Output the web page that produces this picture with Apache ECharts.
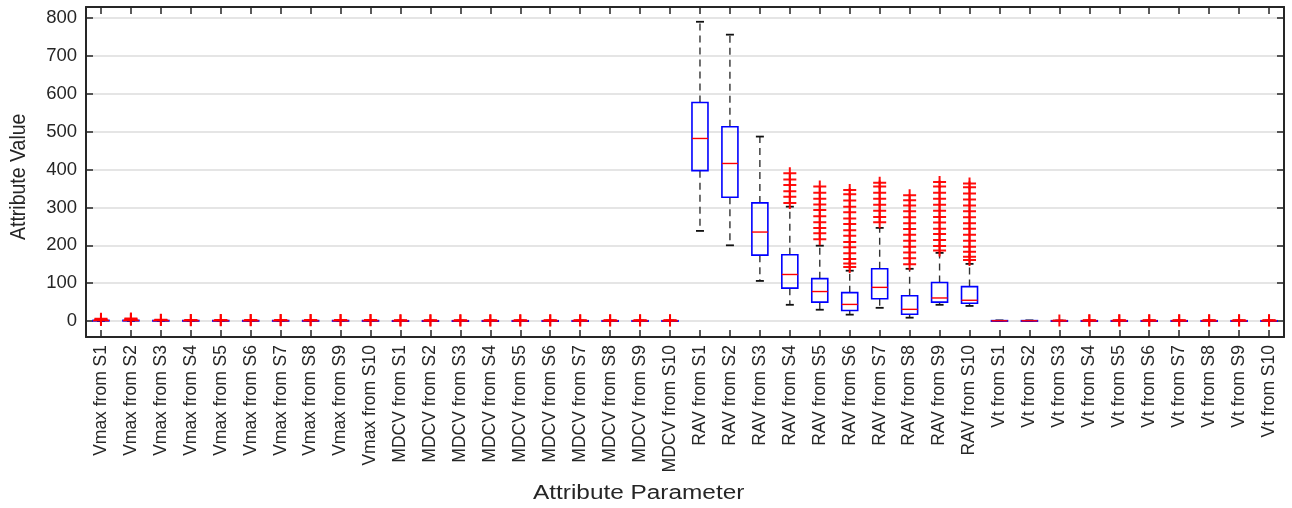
<!DOCTYPE html>
<html>
<head>
<meta charset="utf-8">
<script src="https://cdn.jsdelivr.net/npm/echarts@6/dist/echarts.min.js"></script>
<style>
  html, body { margin: 0; padding: 0; background: #ffffff; }
  #chart { width: 1292px; height: 508px; }
</style>
</head>
<body>
<div id="chart"></div>
<script>
// Attribute parameters (tick labels on the category axis)
const categories = [
  'Vmax from S1', 'Vmax from S2', 'Vmax from S3', 'Vmax from S4', 'Vmax from S5',
  'Vmax from S6', 'Vmax from S7', 'Vmax from S8', 'Vmax from S9', 'Vmax from S10',
  'MDCV from S1', 'MDCV from S2', 'MDCV from S3', 'MDCV from S4', 'MDCV from S5',
  'MDCV from S6', 'MDCV from S7', 'MDCV from S8', 'MDCV from S9', 'MDCV from S10',
  'RAV from S1', 'RAV from S2', 'RAV from S3', 'RAV from S4', 'RAV from S5',
  'RAV from S6', 'RAV from S7', 'RAV from S8', 'RAV from S9', 'RAV from S10',
  'Vt from S1', 'Vt from S2', 'Vt from S3', 'Vt from S4', 'Vt from S5',
  'Vt from S6', 'Vt from S7', 'Vt from S8', 'Vt from S9', 'Vt from S10'
];

// Box statistics per parameter
const whiskerLow = [
  0.2, 0.3, 0.2, 0.1, 0.2, 0.1, 0.2, 0.1, 0.2, 0.1,
  0.1, 0.1, 0.1, 0.1, 0.1, 0.1, 0.1, 0.1, 0.1, 0.1,
  238, 200, 106, 43, 30, 17, 35, 9, 43, 40,
  0.1, 0.1, 0.1, 0.1, 0.1, 0.1, 0.1, 0.1, 0.1, 0.1
];
const q1 = [
  0.8, 0.9, 0.7, 0.6, 0.6, 0.5, 0.6, 0.5, 0.6, 0.5,
  0.4, 0.4, 0.4, 0.4, 0.4, 0.4, 0.4, 0.4, 0.4, 0.4,
  397, 327, 174, 87, 50, 28, 59, 18, 50, 47,
  0.5, 0.5, 0.4, 0.4, 0.4, 0.4, 0.4, 0.4, 0.4, 0.4
];
const median = [
  1.3, 1.4, 1.1, 1.0, 1.0, 0.9, 1.0, 0.9, 1.0, 0.9,
  0.7, 0.7, 0.7, 0.7, 0.7, 0.7, 0.7, 0.7, 0.7, 0.7,
  482, 416, 235, 123, 78, 44, 89, 31, 61, 55,
  0.8, 0.8, 0.7, 0.7, 0.7, 0.7, 0.7, 0.7, 0.7, 0.7
];
const q3 = [
  1.9, 2.0, 1.6, 1.5, 1.5, 1.4, 1.5, 1.4, 1.5, 1.4,
  1.0, 1.0, 1.0, 1.0, 1.0, 1.0, 1.0, 1.0, 1.0, 1.0,
  577, 513, 312, 175, 112, 75, 138, 67, 102, 91,
  1.2, 1.2, 1.0, 1.0, 1.0, 1.0, 1.0, 1.0, 1.0, 1.0
];
const whiskerHigh = [
  2.4, 2.6, 2.2, 2.0, 2.0, 1.9, 2.0, 1.9, 2.0, 1.9,
  1.5, 1.5, 1.5, 1.5, 1.5, 1.5, 1.5, 1.5, 1.5, 1.5,
  790, 756, 487, 302, 199, 133, 246, 138, 180, 151,
  1.8, 1.8, 1.5, 1.5, 1.5, 1.5, 1.5, 1.5, 1.5, 1.5
];

// Values beyond the whiskers, per parameter
const outliers = [
  [3.0, 4.5, 6.0], [3.2, 4.8, 6.5], [2.6, 3.2], [2.4, 3.0], [2.4, 3.0],
  [2.2, 2.8], [2.4, 3.0], [2.2, 2.8], [2.4, 3.0], [2.2, 2.8],
  [1.8, 2.4], [1.8, 2.4], [1.8, 2.4], [1.8, 2.4], [1.8, 2.4],
  [1.8, 2.4], [1.8, 2.4], [1.8, 2.4], [1.8, 2.4], [1.8, 2.4],
  [], [], [],
  [312, 328, 343, 359, 374, 390],
  [216, 232, 246, 261, 277, 293, 308, 323, 339, 355],
  [143, 152, 164, 179, 195, 209, 225, 240, 256, 271, 287, 302, 318, 335, 346],
  [261, 275, 291, 307, 323, 339, 355, 365],
  [150, 166, 181, 196, 212, 228, 243, 258, 274, 290, 305, 319, 332],
  [186, 198, 214, 230, 244, 260, 275, 291, 307, 323, 339, 355, 367],
  [161, 170, 183, 196, 212, 228, 244, 258, 274, 290, 305, 321, 337, 353, 363],
  [], [], [1.8],
  [1.8, 2.4], [1.8, 2.4], [1.8, 2.4], [1.8, 2.4], [1.8, 2.4], [1.8, 2.4], [1.8, 2.4]
];

// Y-axis value range
const yMin = -42;
const yMax = 829;

const boxData = categories.map((c, i) => [i, whiskerLow[i], q1[i], median[i], q3[i], whiskerHigh[i]]);
const outlierData = [];
outliers.forEach((list, i) => list.forEach(v => outlierData.push([i, v])));

const AXIS_COLOR = '#262626';
const FONT = 'Liberation Sans, Arial, sans-serif';
const PLUS = 'path://M0,5H13V7H0Z M5.5,0H7.5V12H5.5Z';

function renderBox(params, api) {
  const i = api.value(0);
  const x = api.coord([i, 0])[0];
  const yLo = api.coord([i, api.value(1)])[1];
  const yQ1 = api.coord([i, api.value(2)])[1];
  const yMed = api.coord([i, api.value(3)])[1];
  const yQ3 = api.coord([i, api.value(4)])[1];
  const yHi = api.coord([i, api.value(5)])[1];
  const half = 8;
  const cap = 4;
  const dash = { stroke: '#333333', lineWidth: 1.4, lineDash: [7, 5], fill: null };
  const capStyle = { stroke: '#111111', lineWidth: 1.8, fill: null };
  return {
    type: 'group',
    children: [
      { type: 'line', shape: { x1: x, y1: yQ3, x2: x, y2: yHi }, style: dash },
      { type: 'line', shape: { x1: x, y1: yQ1, x2: x, y2: yLo }, style: dash },
      { type: 'line', shape: { x1: x - cap, y1: yHi, x2: x + cap, y2: yHi }, style: capStyle },
      { type: 'line', shape: { x1: x - cap, y1: yLo, x2: x + cap, y2: yLo }, style: capStyle },
      { type: 'rect', shape: { x: x - half, y: yQ3, width: 2 * half, height: Math.max(yQ1 - yQ3, 0.5) },
        style: { stroke: '#0000ff', lineWidth: 1.6, fill: null } },
      { type: 'line', shape: { x1: x - half, y1: yMed, x2: x + half, y2: yMed },
        style: { stroke: '#ff0000', lineWidth: 1.4, fill: null } }
    ]
  };
}

const chart = echarts.init(document.getElementById('chart'), null, { renderer: 'canvas' });

const valueAxisBase = {
  type: 'value',
  min: yMin,
  max: yMax,
  splitNumber: 8,
  axisLine: { show: true, lineStyle: { color: AXIS_COLOR, width: 2 } },
  axisTick: { show: true, inside: true, length: 7, lineStyle: { color: AXIS_COLOR, width: 1.5 } }
};

const categoryTick = {
  show: true, inside: true, alignWithLabel: true, interval: 0, length: 7,
  lineStyle: { color: AXIS_COLOR, width: 1.5 }
};

chart.setOption({
  animation: false,
  backgroundColor: '#ffffff',
  grid: { left: 86, right: 8, top: 7, bottom: 171, containLabel: false },
  xAxis: [
    {
      type: 'category',
      data: categories,
      position: 'bottom',
      boundaryGap: true,
      axisLine: { show: true, onZero: false, lineStyle: { color: AXIS_COLOR, width: 2 } },
      axisTick: categoryTick,
      axisLabel: {
        rotate: 90, interval: 0, margin: 8,
        color: AXIS_COLOR, fontSize: 17.5, fontFamily: FONT
      },
      splitLine: { show: false }
    },
    {
      type: 'category',
      data: categories,
      position: 'top',
      boundaryGap: true,
      axisLine: { show: true, onZero: false, lineStyle: { color: AXIS_COLOR, width: 2 } },
      axisTick: categoryTick,
      axisLabel: { show: false },
      splitLine: { show: false }
    }
  ],
  yAxis: [
    Object.assign({}, valueAxisBase, {
      position: 'left',
      axisLabel: {
        show: true, margin: 9, color: AXIS_COLOR, fontSize: 18.5, fontFamily: FONT,
        showMinLabel: false, showMaxLabel: false,
        formatter: v => (Math.abs(v % 100) < 1e-9 ? String(v) : '')
      },
      splitLine: { show: true, lineStyle: { color: '#dcdcdc', width: 1.6 } }
    }),
    Object.assign({}, valueAxisBase, {
      position: 'right',
      axisLabel: { show: false },
      splitLine: { show: false }
    })
  ],
  graphic: [
    {
      type: 'text', x: 533, y: 484, scaleX: 1.25,
      style: { text: 'Attribute Parameter', fill: AXIS_COLOR, fontSize: 19.5, fontFamily: FONT }
    },
    {
      type: 'text', x: 7, y: 240, rotation: Math.PI / 2, scaleY: 1.15,
      style: { text: 'Attribute Value', fill: AXIS_COLOR, fontSize: 19.5, fontFamily: FONT }
    }
  ],
  series: [
    {
      type: 'custom',
      name: 'box',
      xAxisIndex: 0,
      yAxisIndex: 0,
      renderItem: renderBox,
      encode: { x: 0, y: [1, 2, 3, 4, 5] },
      data: boxData,
      z: 3
    },
    {
      type: 'scatter',
      name: 'outliers',
      xAxisIndex: 0,
      yAxisIndex: 0,
      symbol: PLUS,
      symbolSize: [13, 12],
      itemStyle: { color: '#ff0000', opacity: 0.95 },
      data: outlierData,
      z: 4
    }
  ]
});
</script>
</body>
</html>
